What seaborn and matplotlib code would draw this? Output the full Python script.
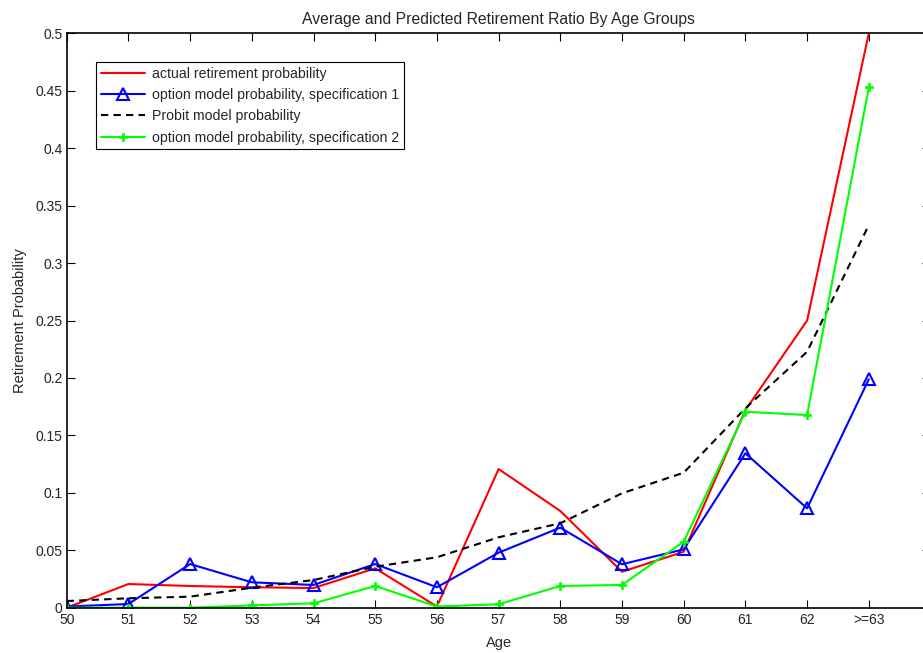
import numpy as np
import pandas as pd
import matplotlib
matplotlib.use("Agg")
import matplotlib.pyplot as plt
import seaborn as sns

ages = [50, 51, 52, 53, 54, 55, 56, 57, 58, 59, 60, 61, 62, 63]
age_labels = ["50", "51", "52", "53", "54", "55", "56", "57", "58", "59", "60", "61", "62", ">=63"]

actual = [0.000, 0.0206, 0.0189, 0.0178, 0.0171, 0.0343, 0.001, 0.1207, 0.0842, 0.0313, 0.0487, 0.172, 0.250, 0.500]
option_spec1 = [0.001, 0.0032, 0.038, 0.0221, 0.0198, 0.038, 0.0178, 0.0479, 0.0697, 0.0378, 0.0508, 0.1344, 0.0865, 0.1988]
probit = [0.0058, 0.0082, 0.0096, 0.0174, 0.0241, 0.0357, 0.0439, 0.0613, 0.0735, 0.0996, 0.1175, 0.1736, 0.2228, 0.3331]
option_spec2 = [0.000, 0.000, 0.000, 0.002, 0.0038, 0.0189, 0.001, 0.003, 0.0189, 0.0198, 0.0575, 0.1706, 0.1677, 0.453]

y_ticks = [0, 0.05, 0.1, 0.15, 0.2, 0.25, 0.3, 0.35, 0.4, 0.45, 0.5]
y_tick_labels = ["0", "0.05", "0.1", "0.15", "0.2", "0.25", "0.3", "0.35", "0.4", "0.45", "0.5"]

sns.set_style("white")
plt.rcParams["font.family"] = ["Liberation Sans", "DejaVu Sans"]
plt.rcParams["font.size"] = 10

fig = plt.figure(figsize=(9.23, 6.53), dpi=100)
W, H = 923, 653
left, right, bottom, top = 66.7, 930.5, 607.7, 33.3
ax = fig.add_axes([left / W, 1 - bottom / H, (right - left) / W, (bottom - top) / H])

sns.lineplot(x=ages, y=actual, ax=ax, color="#ff0000", lw=1.5,
             label="actual retirement probability")
sns.lineplot(x=ages, y=option_spec1, ax=ax, color="#0000ff", lw=1.5, marker="^",
             markersize=8, markerfacecolor="none", markeredgecolor="#0000ff", markeredgewidth=1.5,
             label="option model probability, specification 1")
sns.lineplot(x=ages, y=probit, ax=ax, color="black", lw=1.5, linestyle=(0, (3.5, 2.5)),
             label="Probit model probability")
sns.lineplot(x=ages, y=option_spec2, ax=ax, color="#00ff00", lw=1.5, marker="P",
             markersize=5.5, markeredgecolor="#00ff00", markerfacecolor="#00ff00", markeredgewidth=0.5,
             label="option model probability, specification 2")

ax.set_xlim(50, 64)
ax.set_ylim(0, 0.5)
ax.set_xticks(ages)
ax.set_xticklabels(age_labels)
ax.set_yticks(y_ticks)
ax.set_yticklabels(y_tick_labels)

for s in ax.spines.values():
    s.set_visible(True)
    s.set_color("black")
    s.set_linewidth(1.2)
ax.tick_params(direction="in", length=5.5, width=0.8, color="black",
               top=True, right=True, bottom=True, left=True,
               labelsize=10, pad=3, labelcolor="#222222")
ax.tick_params(axis="x", pad=4)

ax.set_title("Average and Predicted Retirement Ratio By Age Groups", fontsize=11.3, pad=7)
ax.set_xlabel("Age", fontsize=10.5, labelpad=6)
ax.set_ylabel("Retirement Probability", fontsize=10.5, labelpad=6)

leg = ax.legend(loc="upper left", bbox_to_anchor=(95.7 / W, 1 - 62.3 / H),
                bbox_transform=fig.transFigure, borderaxespad=0, frameon=True,
                fancybox=False, edgecolor="black", framealpha=1, fontsize=10.2,
                handlelength=3.1, labelspacing=0.5, borderpad=0.35, handletextpad=0.5)
leg.get_frame().set_linewidth(0.8)

fig.savefig("out.png", dpi=100)
